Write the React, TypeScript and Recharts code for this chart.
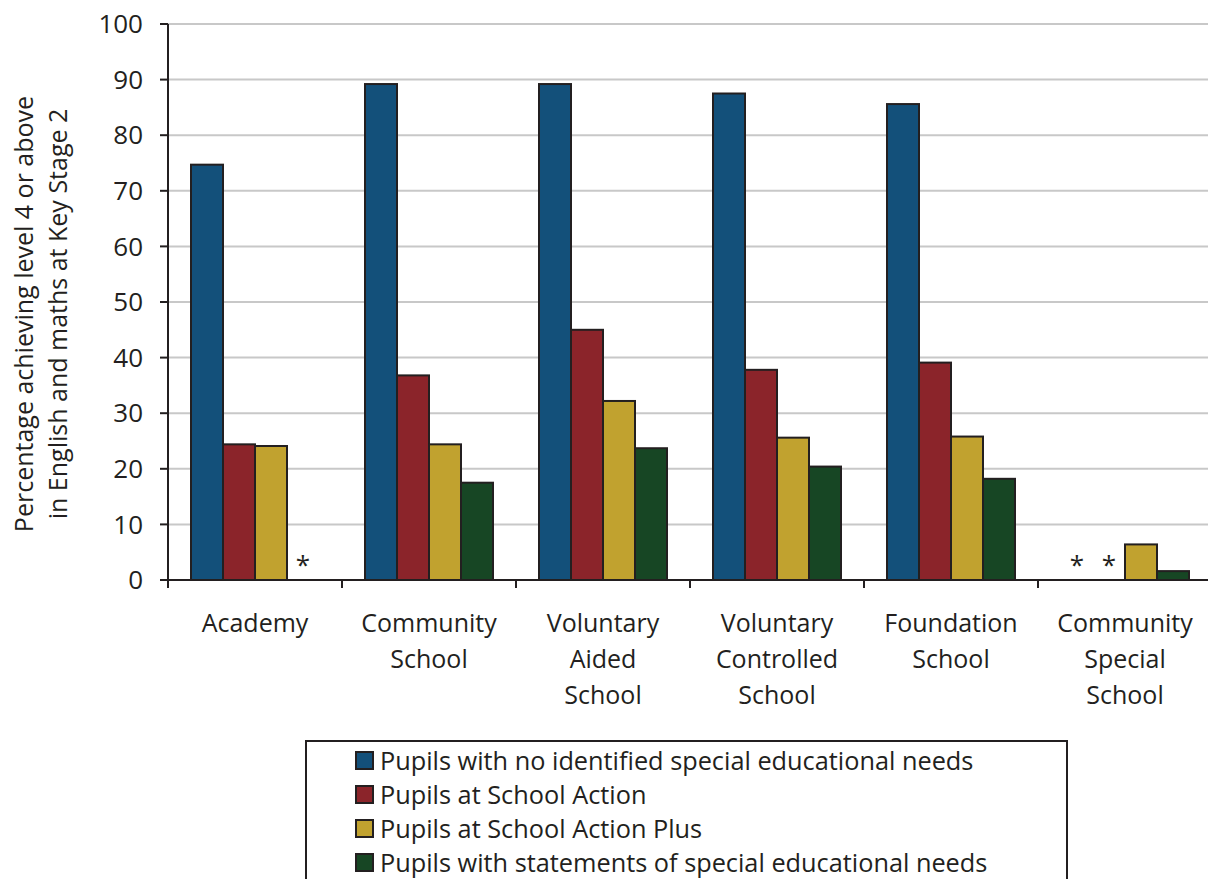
import { Bar, BarChart, CartesianGrid, XAxis, YAxis } from "recharts";

const categories = [
  "Academy",
  "Community School",
  "Voluntary Aided School",
  "Voluntary Controlled School",
  "Foundation School",
  "Community Special School",
];
const categoryLines = [
  ["Academy"],
  ["Community", "School"],
  ["Voluntary", "Aided", "School"],
  ["Voluntary", "Controlled", "School"],
  ["Foundation", "School"],
  ["Community", "Special", "School"],
];

// null = suppressed value, shown as "*"
const noSen = [74.7, 89.2, 89.2, 87.5, 85.6, null];
const schoolAction = [24.4, 36.8, 45.0, 37.8, 39.1, null];
const actionPlus = [24.1, 24.4, 32.2, 25.6, 25.8, 6.4];
const statements = [null, 17.5, 23.7, 20.4, 18.2, 1.6];

const yTicks = [0, 10, 20, 30, 40, 50, 60, 70, 80, 90, 100];

const series = [
  { key: "noSen", name: "Pupils with no identified special educational needs", color: "#13507a", values: noSen },
  { key: "schoolAction", name: "Pupils at School Action", color: "#8b242a", values: schoolAction },
  { key: "actionPlus", name: "Pupils at School Action Plus", color: "#c1a22f", values: actionPlus },
  { key: "statements", name: "Pupils with statements of special educational needs", color: "#174624", values: statements },
];

const data = categories.map((c, i) => {
  const row: Record<string, any> = { category: c, idx: i };
  series.forEach((s) => {
    row[s.key] = s.values[i] ?? 0;
  });
  return row;
});

const FONT = "'Open Sans', 'Noto Sans', sans-serif";
const INK = "#231f20";
const BAND = 174;

function makeShape(values: (number | null)[]) {
  return (props: any) => {
    const { x, y, width, height, fill, index } = props;
    if (values[index] == null) {
      return (
        <text
          x={x + width / 2}
          y={y - 6}
          textAnchor="middle"
          fontSize={26}
          fontFamily={FONT}
          fill={INK}
        >
          *
        </text>
      );
    }
    return <rect x={x} y={y} width={width} height={height} fill={fill} stroke={INK} strokeWidth={2} />;
  };
}

function CategoryTick(props: any) {
  const { x, y, index } = props;
  const lines = categoryLines[index] || [];
  const left = x - BAND / 2;
  return (
    <g>
      <line x1={left} x2={left} y1={y} y2={y + 8} stroke={INK} strokeWidth={2} />
      {index === categoryLines.length - 1 && (
        <line x1={x + BAND / 2} x2={x + BAND / 2} y1={y} y2={y + 8} stroke={INK} strokeWidth={2} />
      )}
      {lines.map((l, i) => (
        <text
          key={i}
          x={x}
          y={y + 52 + i * 36}
          textAnchor="middle"
          fontSize={25}
          fontFamily={FONT}
          fill={INK}
        >
          {l}
        </text>
      ))}
    </g>
  );
}

function YLabel() {
  return (
    <g transform="translate(0,314) rotate(-90)">
      <text x={0} y={33} textAnchor="middle" fontSize={25} fontFamily={FONT} fill={INK}>
        Percentage achieving level 4 or above
      </text>
      <text x={0} y={67} textAnchor="middle" fontSize={25} fontFamily={FONT} fill={INK}>
        in English and maths at Key Stage 2
      </text>
    </g>
  );
}

export default function App() {
  return (
    <div style={{ position: "absolute", left: 0, top: 0, width: 1208, height: 879, overflow: "hidden", background: "#fff" }}>
      <BarChart
        width={1214}
        height={879}
        data={data}
        margin={{ top: 24, right: 2, left: 0, bottom: 0 }}
        barCategoryGap={23}
        barGap={0}
      >
        <CartesianGrid vertical={false} stroke="#c8c8c8" strokeWidth={2} />
        <XAxis
          dataKey="category"
          tick={<CategoryTick />}
          tickLine={false}
          tickSize={0}
          tickMargin={0}
          axisLine={{ stroke: INK, strokeWidth: 2 }}
          interval={0}
          height={299}
        />
        <YAxis
          domain={[0, 100]}
          ticks={yTicks}
          interval={0}
          width={168}
          tick={{ fontSize: 26, fontFamily: FONT, fill: INK }}
          tickLine={{ stroke: INK, strokeWidth: 2 }}
          tickSize={8}
          tickMargin={17}
          axisLine={{ stroke: INK, strokeWidth: 2 }}
          label={<YLabel />}
        />
        {series.map((s) => (
          <Bar
            key={s.key}
            dataKey={s.key}
            name={s.name}
            fill={s.color}
            isAnimationActive={false}
            shape={makeShape(s.values)}
          />
        ))}
      </BarChart>
      <div
        style={{
          position: "absolute",
          left: 305,
          top: 740,
          width: 763,
          height: 160,
          border: `2px solid ${INK}`,
          boxSizing: "border-box",
          paddingLeft: 48,
          paddingTop: 1,
          fontFamily: FONT,
          fontSize: 25.3,
          color: INK,
          whiteSpace: "nowrap",
        }}
      >
        {series.map((s) => (
          <div key={s.key} style={{ display: "flex", alignItems: "center", height: 34 }}>
            <span
              style={{
                display: "inline-block",
                flex: "none",
                width: 15,
                height: 15,
                background: s.color,
                border: `2px solid ${INK}`,
                marginRight: 6,
              }}
            />
            <span>{s.name}</span>
          </div>
        ))}
      </div>
    </div>
  );
}
